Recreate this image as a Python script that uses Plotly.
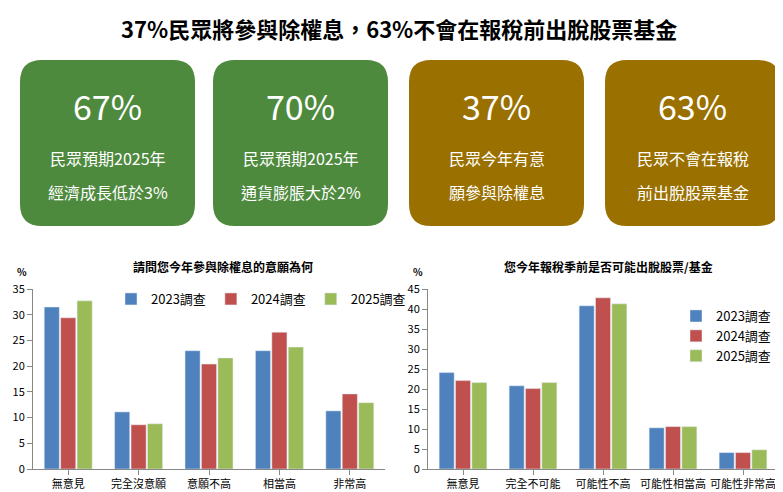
import plotly.graph_objects as go

W, H = 783, 492
FONT = "Noto Sans CJK TC"

years = ["2023調查", "2024調查", "2025調查"]
colors = ["#4f81bd", "#c0504d", "#9bbb59"]

cats_l = ["無意見", "完全沒意願", "意願不高", "相當高", "非常高"]
vals_l = [
    [31.5, 11.1, 23.0, 23.0, 11.3],
    [29.4, 8.6, 20.4, 26.6, 14.6],
    [32.7, 8.8, 21.6, 23.7, 12.9],
]
cats_r = ["無意見", "完全不可能", "可能性不高", "可能性相當高", "可能性非常高"]
vals_r = [
    [24.1, 20.8, 40.8, 10.3, 4.1],
    [22.1, 20.1, 42.8, 10.6, 4.1],
    [21.6, 21.6, 41.3, 10.6, 4.8],
]

box_big = ["67%", "70%", "37%", "63%"]
box_line1 = ["民眾預期2025年", "民眾預期2025年", "民眾今年有意", "民眾不會在報稅"]
box_line2 = ["經濟成長低於3%", "通貨膨脹大於2%", "願參與除權息", "前出脫股票基金"]
box_color = ["#4e8a3e", "#4e8a3e", "#9a7000", "#9a7000"]
box_x = [12, 205, 401, 597]

def px(x):
    return x / W

def py(y):
    return 1 - y / H

fig = go.Figure()
for i, y in enumerate(years):
    fig.add_trace(go.Bar(x=cats_l, y=vals_l[i], name=y, marker_color=colors[i],
                         xaxis="x", yaxis="y", legend="legend"))
    fig.add_trace(go.Bar(x=cats_r, y=vals_r[i], name=y, marker_color=colors[i],
                         xaxis="x2", yaxis="y2", legend="legend2"))

def note(x, y, text, size, color="black"):
    return dict(x=px(x), y=py(y), xref="paper", yref="paper", text=text, showarrow=False,
                xanchor="center", yanchor="middle", font=dict(size=size, color=color))

shapes, annotations = [], []
bw, r = 175, 22
y0, y1 = 52, 218
for i, x0 in enumerate(box_x):
    x1 = x0 + bw
    pts = (f"M {px(x0+r)},{py(y0)} L {px(x1-r)},{py(y0)} Q {px(x1)},{py(y0)} {px(x1)},{py(y0+r)} "
           f"L {px(x1)},{py(y1-r)} Q {px(x1)},{py(y1)} {px(x1-r)},{py(y1)} "
           f"L {px(x0+r)},{py(y1)} Q {px(x0)},{py(y1)} {px(x0)},{py(y1-r)} "
           f"L {px(x0)},{py(y0+r)} Q {px(x0)},{py(y0)} {px(x0+r)},{py(y0)} Z")
    shapes.append(dict(type="path", path=pts, xref="paper", yref="paper",
                       fillcolor=box_color[i], line_width=0, layer="below"))
    annotations.append(note(x0 + bw / 2, 97, box_big[i], 34, "white"))
    annotations.append(note(x0 + bw / 2, 150, box_line1[i], 16, "white"))
    annotations.append(note(x0 + bw / 2, 184, box_line2[i], 16, "white"))

annotations += [
    note(391, 20, "<b>37%民眾將參與除權息，63%不會在報稅前出脫股票基金</b>", 22),
    note(215, 258, "<b>請問您今年參與除權息的意願為何</b>", 12),
    note(600, 258, "<b>您今年報稅季前是否可能出脫股票/基金</b>", 12),
    note(14, 263, "<b>%</b>", 10),
    note(410, 263, "<b>%</b>", 10),
]

axis_common = dict(showline=True, linecolor="#888", ticks="outside", tickcolor="#888",
                   tickfont=dict(size=11, color="black"), showgrid=False, zeroline=False)
fig.update_layout(
    width=W, height=H, margin=dict(l=0, r=0, t=0, b=0, autoexpand=False),
    paper_bgcolor="white", plot_bgcolor="white",
    font=dict(family=FONT, color="black"),
    barmode="group", bargap=0.3, bargroupgap=0.08,
    shapes=shapes, annotations=annotations,
    xaxis=dict(domain=[px(25), px(377)], anchor="y", **axis_common),
    yaxis=dict(domain=[py(461), py(281)], anchor="x", range=[0, 35], dtick=5, **axis_common),
    xaxis2=dict(domain=[px(420), px(770)], anchor="y2", **axis_common),
    yaxis2=dict(domain=[py(461), py(281)], anchor="x2", range=[0, 45], dtick=5, **axis_common),
    legend=dict(orientation="h", x=px(103), y=py(276), xanchor="left", yanchor="top",
                font=dict(size=13), bgcolor="rgba(0,0,0,0)", itemwidth=30),
    legend2=dict(orientation="v", x=px(668), y=py(293), xanchor="left", yanchor="top",
                 font=dict(size=13), tracegroupgap=10, bgcolor="rgba(0,0,0,0)"),
)
fig.write_html("out.html")
